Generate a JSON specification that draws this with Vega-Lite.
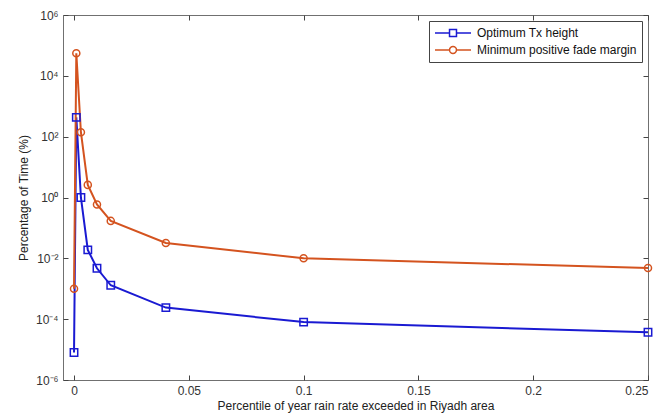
{
  "$schema": "https://vega.github.io/schema/vega-lite/v6.json",
  "width": 585,
  "height": 365,
  "autosize": "none",
  "padding": {"left": 63, "top": 15, "right": 24, "bottom": 36},
  "background": "white",
  "config": {
    "font": "Liberation Sans",
    "view": {"stroke": "#707070", "strokeWidth": 1},
    "axis": {
      "domain": false,
      "grid": false,
      "ticks": true,
      "tickColor": "#444444",
      "tickWidth": 1,
      "labelFont": "Liberation Sans",
      "labelFontSize": 12,
      "labelColor": "#333333",
      "titleFont": "Liberation Sans",
      "titleFontSize": 12,
      "titleFontWeight": "normal",
      "titleColor": "#222222"
    }
  },
  "data": {
    "values": [
      {"x": 0, "y": 0.000008, "series": "Optimum Tx height"},
      {"x": 0.001, "y": 430, "series": "Optimum Tx height"},
      {"x": 0.003, "y": 1.0, "series": "Optimum Tx height"},
      {"x": 0.006, "y": 0.019, "series": "Optimum Tx height"},
      {"x": 0.01, "y": 0.0047, "series": "Optimum Tx height"},
      {"x": 0.016, "y": 0.0013, "series": "Optimum Tx height"},
      {"x": 0.04, "y": 0.00024, "series": "Optimum Tx height"},
      {"x": 0.1, "y": 0.00008, "series": "Optimum Tx height"},
      {"x": 0.25, "y": 0.000037, "series": "Optimum Tx height"},
      {"x": 0, "y": 0.001, "series": "Minimum positive fade margin"},
      {"x": 0.001, "y": 55000, "series": "Minimum positive fade margin"},
      {"x": 0.003, "y": 140, "series": "Minimum positive fade margin"},
      {"x": 0.006, "y": 2.6, "series": "Minimum positive fade margin"},
      {"x": 0.01, "y": 0.59, "series": "Minimum positive fade margin"},
      {"x": 0.016, "y": 0.17, "series": "Minimum positive fade margin"},
      {"x": 0.04, "y": 0.032, "series": "Minimum positive fade margin"},
      {"x": 0.1, "y": 0.01, "series": "Minimum positive fade margin"},
      {"x": 0.25, "y": 0.0048, "series": "Minimum positive fade margin"}
    ]
  },
  "layer": [
    {
      "mark": {"type": "line", "strokeWidth": 2},
      "encoding": {
        "x": {
          "field": "x", "type": "quantitative",
          "scale": {"domain": [-0.0048, 0.25], "nice": false, "zero": false},
          "axis": {
            "orient": "bottom",
            "zindex": 1,
            "tickSize": -5,
            "values": [0, 0.05, 0.1, 0.15, 0.2, 0.25],
            "labelExpr": "toString(datum.value)",
            "labelPadding": 10,
            "title": "Percentile of year rain rate exceeded in Riyadh area",
            "titlePadding": 4
          }
        },
        "y": {
          "field": "y", "type": "quantitative",
          "scale": {"type": "log", "domain": [0.000001, 1000000], "nice": false},
          "axis": {
            "orient": "left",
            "zindex": 1,
            "tickSize": -5,
            "values": [0.000001, 0.0001, 0.01, 1, 100, 10000, 1000000],
            "labelExpr": "datum.value > 100000 ? '10⁶' : datum.value > 1000 ? '10⁴' : datum.value > 10 ? '10²' : datum.value > 0.1 ? '10⁰' : datum.value > 0.001 ? '10⁻²' : datum.value > 0.00001 ? '10⁻⁴' : '10⁻⁶'",
            "labelPadding": 10,
            "title": "Percentage of Time (%)",
            "titlePadding": 5
          }
        },
        "color": {
          "field": "series", "type": "nominal",
          "scale": {"domain": ["Optimum Tx height", "Minimum positive fade margin"], "range": ["#1a1ad2", "#d4531f"]},
          "legend": {
            "title": null,
            "orient": "top-right",
            "offset": 6,
            "strokeColor": "#444444",
            "fillColor": "white",
            "padding": 5,
            "labelFont": "Liberation Sans",
            "labelFontSize": 12,
            "labelColor": "#111111",
            "labelOffset": 29,
            "symbolSize": 144,
            "symbolStrokeWidth": 1.5,
            "rowPadding": 3,
            "encode": {
              "symbols": {
                "update": {
                  "shape": {"signal": "datum.value === 'Optimum Tx height' ? 'M-1,0H1.42M2.58,0H5M1.42,-0.58H2.58V0.58H1.42Z' : 'M-1,0H1.42M2.58,0H5M1.42,0A0.58,0.58,0,1,1,2.58,0A0.58,0.58,0,1,1,1.42,0Z'"},
                  "fill": {"value": "transparent"}
                }
              }
            }
          }
        }
      }
    },
    {
      "transform": [{"filter": "datum.series === 'Optimum Tx height'"}],
      "mark": {"type": "point", "shape": "square", "filled": false, "strokeWidth": 1.5, "size": 55, "opacity": 1},
      "encoding": {
        "x": {
          "field": "x", "type": "quantitative",
          "axis": {"orient": "top", "zindex": 1, "tickSize": -5, "values": [0, 0.05, 0.1, 0.15, 0.2, 0.25], "labels": false, "title": null}
        },
        "y": {
          "field": "y", "type": "quantitative",
          "axis": {"orient": "right", "zindex": 1, "tickSize": -5, "values": [0.000001, 0.0001, 0.01, 1, 100, 10000, 1000000], "labels": false, "title": null}
        },
        "color": {"field": "series", "type": "nominal", "legend": null}
      }
    },
    {
      "transform": [{"filter": "datum.series === 'Minimum positive fade margin'"}],
      "mark": {"type": "point", "shape": "circle", "filled": false, "strokeWidth": 1.5, "size": 50, "opacity": 1},
      "encoding": {
        "x": {"field": "x", "type": "quantitative", "axis": null},
        "y": {"field": "y", "type": "quantitative", "axis": null},
        "color": {"field": "series", "type": "nominal", "legend": null}
      }
    }
  ],
  "resolve": {"axis": {"x": "independent", "y": "independent"}}
}
